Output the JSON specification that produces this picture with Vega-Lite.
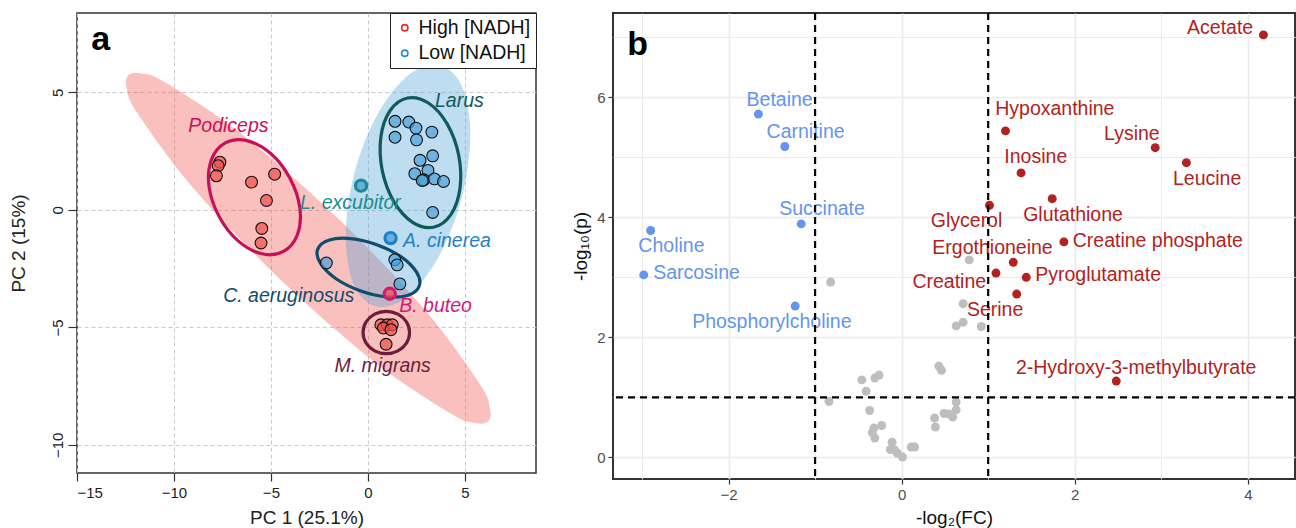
{
  "$schema": "https://vega.github.io/schema/vega-lite/v6.json",
  "background": "white",
  "padding": {"left": 8, "top": 10, "right": 5, "bottom": 0},
  "spacing": 32,
  "config": {
    "font": "Liberation Sans",
    "axis": {"labelFont": "Liberation Sans", "titleFont": "Liberation Sans", "titleFontWeight": "normal"},
    "legend": {"labelFont": "Liberation Sans"},
    "text": {"font": "Liberation Sans"}
  },
  "resolve": {
    "scale": {"color": "independent", "fill": "independent", "stroke": "independent"},
    "legend": {"color": "independent", "fill": "independent", "stroke": "independent"}
  },
  "datasets": {
    "ellFill": [
      {"grp": "High", "i": 0, "x": 6.22, "y": -8.99},
      {"grp": "High", "i": 1, "x": 6.29, "y": -8.41},
      {"grp": "High", "i": 2, "x": 5.73, "y": -7.36},
      {"grp": "High", "i": 3, "x": 2.87, "y": -4.19},
      {"grp": "High", "i": 4, "x": -1.57, "y": -0.34},
      {"grp": "High", "i": 5, "x": -6.42, "y": 3.17},
      {"grp": "High", "i": 6, "x": -10.37, "y": 5.39},
      {"grp": "High", "i": 7, "x": -11.66, "y": 5.81},
      {"grp": "High", "i": 8, "x": -12.36, "y": 5.73},
      {"grp": "High", "i": 9, "x": -12.43, "y": 5.15},
      {"grp": "High", "i": 10, "x": -11.87, "y": 4.10},
      {"grp": "High", "i": 11, "x": -9.01, "y": 0.93},
      {"grp": "High", "i": 12, "x": -4.57, "y": -2.92},
      {"grp": "High", "i": 13, "x": 0.28, "y": -6.43},
      {"grp": "High", "i": 14, "x": 4.23, "y": -8.65},
      {"grp": "High", "i": 15, "x": 5.52, "y": -9.07},
      {"grp": "Low", "i": 0, "x": 3.75, "y": 6.16},
      {"grp": "Low", "i": 1, "x": 4.90, "y": 5.17},
      {"grp": "Low", "i": 2, "x": 5.28, "y": 3.07},
      {"grp": "Low", "i": 3, "x": 4.81, "y": 0.42},
      {"grp": "Low", "i": 4, "x": 3.60, "y": -2.07},
      {"grp": "Low", "i": 5, "x": 1.99, "y": -3.72},
      {"grp": "Low", "i": 6, "x": 0.39, "y": -4.10},
      {"grp": "Low", "i": 7, "x": -0.76, "y": -3.11},
      {"grp": "Low", "i": 8, "x": -1.14, "y": -1.01},
      {"grp": "Low", "i": 9, "x": -0.67, "y": 1.64},
      {"grp": "Low", "i": 10, "x": 0.54, "y": 4.13},
      {"grp": "Low", "i": 11, "x": 2.16, "y": 5.78}
    ],
    "ellLine": [
      {"sp": "Podiceps", "i": 0, "x": -4.35, "y": -1.77},
      {"sp": "Podiceps", "i": 1, "x": -3.63, "y": -1.05},
      {"sp": "Podiceps", "i": 2, "x": -3.51, "y": 0.09},
      {"sp": "Podiceps", "i": 3, "x": -4.02, "y": 1.35},
      {"sp": "Podiceps", "i": 4, "x": -5.01, "y": 2.40},
      {"sp": "Podiceps", "i": 5, "x": -6.24, "y": 2.95},
      {"sp": "Podiceps", "i": 6, "x": -7.35, "y": 2.85},
      {"sp": "Podiceps", "i": 7, "x": -8.07, "y": 2.13},
      {"sp": "Podiceps", "i": 8, "x": -8.19, "y": 0.99},
      {"sp": "Podiceps", "i": 9, "x": -7.68, "y": -0.27},
      {"sp": "Podiceps", "i": 10, "x": -6.69, "y": -1.32},
      {"sp": "Podiceps", "i": 11, "x": -5.47, "y": -1.87},
      {"sp": "Larus", "i": 0, "x": 2.04, "y": 4.76},
      {"sp": "Larus", "i": 1, "x": 3.12, "y": 4.55},
      {"sp": "Larus", "i": 2, "x": 4.08, "y": 3.67},
      {"sp": "Larus", "i": 3, "x": 4.68, "y": 2.34},
      {"sp": "Larus", "i": 4, "x": 4.75, "y": 0.92},
      {"sp": "Larus", "i": 5, "x": 4.28, "y": -0.20},
      {"sp": "Larus", "i": 6, "x": 3.38, "y": -0.74},
      {"sp": "Larus", "i": 7, "x": 2.31, "y": -0.53},
      {"sp": "Larus", "i": 8, "x": 1.34, "y": 0.35},
      {"sp": "Larus", "i": 9, "x": 0.74, "y": 1.68},
      {"sp": "Larus", "i": 10, "x": 0.67, "y": 3.10},
      {"sp": "Larus", "i": 11, "x": 1.14, "y": 4.22},
      {"sp": "C. aeruginosus", "i": 0, "x": 2.65, "y": -3.24},
      {"sp": "C. aeruginosus", "i": 1, "x": 2.08, "y": -3.63},
      {"sp": "C. aeruginosus", "i": 2, "x": 0.96, "y": -3.70},
      {"sp": "C. aeruginosus", "i": 3, "x": -0.40, "y": -3.44},
      {"sp": "C. aeruginosus", "i": 4, "x": -1.66, "y": -2.92},
      {"sp": "C. aeruginosus", "i": 5, "x": -2.45, "y": -2.27},
      {"sp": "C. aeruginosus", "i": 6, "x": -2.59, "y": -1.68},
      {"sp": "C. aeruginosus", "i": 7, "x": -2.02, "y": -1.29},
      {"sp": "C. aeruginosus", "i": 8, "x": -0.90, "y": -1.22},
      {"sp": "C. aeruginosus", "i": 9, "x": 0.46, "y": -1.48},
      {"sp": "C. aeruginosus", "i": 10, "x": 1.72, "y": -2.00},
      {"sp": "C. aeruginosus", "i": 11, "x": 2.51, "y": -2.65},
      {"sp": "M. migrans", "i": 0, "x": 2.15, "y": -5.22},
      {"sp": "M. migrans", "i": 1, "x": 1.99, "y": -4.77},
      {"sp": "M. migrans", "i": 2, "x": 1.55, "y": -4.44},
      {"sp": "M. migrans", "i": 3, "x": 0.95, "y": -4.32},
      {"sp": "M. migrans", "i": 4, "x": 0.35, "y": -4.44},
      {"sp": "M. migrans", "i": 5, "x": -0.09, "y": -4.77},
      {"sp": "M. migrans", "i": 6, "x": -0.25, "y": -5.22},
      {"sp": "M. migrans", "i": 7, "x": -0.09, "y": -5.67},
      {"sp": "M. migrans", "i": 8, "x": 0.35, "y": -6.00},
      {"sp": "M. migrans", "i": 9, "x": 0.95, "y": -6.12},
      {"sp": "M. migrans", "i": 10, "x": 1.55, "y": -6.00},
      {"sp": "M. migrans", "i": 11, "x": 1.99, "y": -5.67}
    ],
    "pcaPts": [
      {"nadh": "High [NADH]", "grp": "High", "x": -7.63, "y": 2.03},
      {"nadh": "High [NADH]", "grp": "High", "x": -7.72, "y": 1.88},
      {"nadh": "High [NADH]", "grp": "High", "x": -7.81, "y": 1.45},
      {"nadh": "High [NADH]", "grp": "High", "x": -6.00, "y": 1.18},
      {"nadh": "High [NADH]", "grp": "High", "x": -4.81, "y": 1.52},
      {"nadh": "High [NADH]", "grp": "High", "x": -5.23, "y": 0.40},
      {"nadh": "High [NADH]", "grp": "High", "x": -5.47, "y": -0.79},
      {"nadh": "High [NADH]", "grp": "High", "x": -5.51, "y": -1.41},
      {"nadh": "High [NADH]", "grp": "High", "x": 0.67, "y": -4.89},
      {"nadh": "High [NADH]", "grp": "High", "x": 1.00, "y": -4.89},
      {"nadh": "High [NADH]", "grp": "High", "x": 1.26, "y": -4.89},
      {"nadh": "High [NADH]", "grp": "High", "x": 0.80, "y": -5.03},
      {"nadh": "High [NADH]", "grp": "High", "x": 1.19, "y": -5.10},
      {"nadh": "High [NADH]", "grp": "High", "x": 0.94, "y": -5.72},
      {"nadh": "Low [NADH]", "grp": "Low", "x": 1.40, "y": 3.77},
      {"nadh": "Low [NADH]", "grp": "Low", "x": 2.11, "y": 3.74},
      {"nadh": "Low [NADH]", "grp": "Low", "x": 2.48, "y": 3.48},
      {"nadh": "Low [NADH]", "grp": "Low", "x": 3.30, "y": 3.31},
      {"nadh": "Low [NADH]", "grp": "Low", "x": 1.40, "y": 3.09},
      {"nadh": "Low [NADH]", "grp": "Low", "x": 2.51, "y": 2.98},
      {"nadh": "Low [NADH]", "grp": "Low", "x": 3.34, "y": 2.30},
      {"nadh": "Low [NADH]", "grp": "Low", "x": 2.69, "y": 2.11},
      {"nadh": "Low [NADH]", "grp": "Low", "x": 3.10, "y": 1.68},
      {"nadh": "Low [NADH]", "grp": "Low", "x": 2.42, "y": 1.54},
      {"nadh": "Low [NADH]", "grp": "Low", "x": 2.88, "y": 1.28},
      {"nadh": "Low [NADH]", "grp": "Low", "x": 2.80, "y": 1.25},
      {"nadh": "Low [NADH]", "grp": "Low", "x": 3.43, "y": 1.32},
      {"nadh": "Low [NADH]", "grp": "Low", "x": 3.90, "y": 1.21},
      {"nadh": "Low [NADH]", "grp": "Low", "x": 3.34, "y": -0.11},
      {"nadh": "Low [NADH]", "grp": "Low", "x": -2.14, "y": -2.26},
      {"nadh": "Low [NADH]", "grp": "Low", "x": 1.39, "y": -2.12},
      {"nadh": "Low [NADH]", "grp": "Low", "x": 1.51, "y": -2.34},
      {"nadh": "Low [NADH]", "grp": "Low", "x": 1.65, "y": -3.15}
    ],
    "special": [
      {"sp": "L. excubitor", "grp": "Low", "x": -0.35, "y": 1.03},
      {"sp": "A. cinerea", "grp": "Low", "x": 1.17, "y": -1.20},
      {"sp": "B. buteo", "grp": "High", "x": 1.13, "y": -3.57}
    ],
    "spLabels": [
      {"sp": "Podiceps", "x": -7.19, "y": 3.55},
      {"sp": "Larus", "x": 4.72, "y": 4.62},
      {"sp": "L. excubitor", "x": -0.90, "y": 0.29},
      {"sp": "A. cinerea", "x": 4.08, "y": -1.34},
      {"sp": "C. aeruginosus", "x": -4.08, "y": -3.68},
      {"sp": "B. buteo", "x": 3.49, "y": -4.11},
      {"sp": "M. migrans", "x": 0.76, "y": -6.66}
    ],
    "letterA": [{"t": "a", "x": -14.27, "y": 6.80}],
    "letterB": [{"t": "b", "x": -3.17, "y": 6.71}],
    "volcano": [
      {"name": "Acetate", "cat": "up", "x": 4.18, "y": 7.04, "lx": 3.68, "ly": 7.15},
      {"name": "Hypoxanthine", "cat": "up", "x": 1.20, "y": 5.44, "lx": 1.77, "ly": 5.81},
      {"name": "Lysine", "cat": "up", "x": 2.93, "y": 5.16, "lx": 2.66, "ly": 5.38},
      {"name": "Leucine", "cat": "up", "x": 3.29, "y": 4.91, "lx": 3.53, "ly": 4.64},
      {"name": "Inosine", "cat": "up", "x": 1.38, "y": 4.74, "lx": 1.55, "ly": 5.00},
      {"name": "Glutathione", "cat": "up", "x": 1.74, "y": 4.31, "lx": 1.98, "ly": 4.04},
      {"name": "Glycerol", "cat": "up", "x": 1.015, "y": 4.20, "lx": 0.75, "ly": 3.93},
      {"name": "Creatine phosphate", "cat": "up", "x": 1.875, "y": 3.59, "lx": 2.96, "ly": 3.60},
      {"name": "Ergothioneine", "cat": "up", "x": 1.29, "y": 3.25, "lx": 1.05, "ly": 3.49},
      {"name": "Creatine", "cat": "up", "x": 1.09, "y": 3.07, "lx": 0.55, "ly": 2.92},
      {"name": "Pyroglutamate", "cat": "up", "x": 1.44, "y": 3.00, "lx": 2.27, "ly": 3.04},
      {"name": "Serine", "cat": "up", "x": 1.33, "y": 2.72, "lx": 1.08, "ly": 2.46},
      {"name": "2-Hydroxy-3-methylbutyrate", "cat": "up", "x": 2.48, "y": 1.27, "lx": 2.71, "ly": 1.49},
      {"name": "Betaine", "cat": "down", "x": -1.655, "y": 5.72, "lx": -1.41, "ly": 5.96},
      {"name": "Carnitine", "cat": "down", "x": -1.35, "y": 5.18, "lx": -1.11, "ly": 5.42},
      {"name": "Succinate", "cat": "down", "x": -1.16, "y": 3.89, "lx": -0.92, "ly": 4.13},
      {"name": "Choline", "cat": "down", "x": -2.90, "y": 3.78, "lx": -2.66, "ly": 3.52},
      {"name": "Sarcosine", "cat": "down", "x": -2.98, "y": 3.04, "lx": -2.37, "ly": 3.07},
      {"name": "Phosphorylcholine", "cat": "down", "x": -1.23, "y": 2.52, "lx": -1.50, "ly": 2.25},
      {"name": "n1", "cat": "ns", "x": -0.82, "y": 2.92},
      {"name": "n2", "cat": "ns", "x": 0.71, "y": 2.56},
      {"name": "n3", "cat": "ns", "x": 0.63, "y": 2.19},
      {"name": "n4", "cat": "ns", "x": 0.71, "y": 2.25},
      {"name": "n5", "cat": "ns", "x": 0.92, "y": 2.18},
      {"name": "n6", "cat": "ns", "x": 0.78, "y": 3.29},
      {"name": "n7", "cat": "ns", "x": 0.43, "y": 1.52},
      {"name": "n8", "cat": "ns", "x": 0.46, "y": 1.45},
      {"name": "n9", "cat": "ns", "x": -0.46, "y": 1.29},
      {"name": "n10", "cat": "ns", "x": -0.31, "y": 1.32},
      {"name": "n11", "cat": "ns", "x": -0.26, "y": 1.37},
      {"name": "n12", "cat": "ns", "x": -0.41, "y": 1.10},
      {"name": "n13", "cat": "ns", "x": -0.84, "y": 0.93},
      {"name": "n14", "cat": "ns", "x": 0.63, "y": 0.92},
      {"name": "n15", "cat": "ns", "x": 0.63, "y": 0.79},
      {"name": "n16", "cat": "ns", "x": -0.37, "y": 0.78},
      {"name": "n17", "cat": "ns", "x": 0.49, "y": 0.73},
      {"name": "n18", "cat": "ns", "x": 0.59, "y": 0.67},
      {"name": "n19", "cat": "ns", "x": 0.38, "y": 0.655},
      {"name": "n20", "cat": "ns", "x": 0.39, "y": 0.505},
      {"name": "n21", "cat": "ns", "x": -0.23, "y": 0.53},
      {"name": "n22", "cat": "ns", "x": -0.32, "y": 0.49},
      {"name": "n23", "cat": "ns", "x": -0.34, "y": 0.41},
      {"name": "n24", "cat": "ns", "x": -0.31, "y": 0.32},
      {"name": "n25", "cat": "ns", "x": -0.11, "y": 0.25},
      {"name": "n26", "cat": "ns", "x": -0.13, "y": 0.13},
      {"name": "n27", "cat": "ns", "x": -0.05, "y": 0.07},
      {"name": "n28", "cat": "ns", "x": 0.01, "y": 0.005},
      {"name": "n29", "cat": "ns", "x": 0.11, "y": 0.17},
      {"name": "n30", "cat": "ns", "x": 0.15, "y": 0.17},
      {"name": "n31", "cat": "ns", "x": 0.55, "y": 0.72},
      {"name": "n32", "cat": "ns", "x": -0.08, "y": 0.12}
    ],
    "vlines": [{"v": -1}, {"v": 1}],
    "hlines": [{"h": 1}]
  },
  "hconcat": [
    {
      "width": 459,
      "height": 460,
      "view": {"stroke": "#333333", "strokeWidth": 1.5},
      "encoding": {
        "x": {"field": "x", "type": "quantitative", "scale": {"domain": [-15, 8.67], "nice": false, "zero": false},
          "axis": {"values": [-15, -10, -5, 0, 5], "title": "PC 1 (25.1%)", "grid": true, "gridDash": [4, 3], "gridColor": "#c9c9c9", "gridWidth": 1, "domain": false, "tickSize": 8, "tickColor": "#333333", "tickWidth": 1.2, "labelFontSize": 15, "labelColor": "#222222", "labelPadding": 4, "titleFontSize": 19, "titleColor": "#222222", "titlePadding": 8}},
        "y": {"field": "y", "type": "quantitative", "scale": {"domain": [-11.2, 8.38], "nice": false, "zero": false},
          "axis": {"values": [-10, -5, 0, 5], "title": "PC 2 (15%)", "labelAngle": -90, "grid": true, "gridDash": [4, 3], "gridColor": "#c9c9c9", "gridWidth": 1, "domain": false, "tickSize": 9, "tickColor": "#333333", "tickWidth": 1.2, "labelFontSize": 15, "labelColor": "#222222", "labelPadding": 3, "titleFontSize": 19, "titleColor": "#222222", "titlePadding": 22}}
      },
      "layer": [
        {
          "data": {"name": "ellFill"},
          "mark": {"type": "line", "interpolate": "cardinal-closed", "filled": true, "fillOpacity": 0.36, "strokeOpacity": 0},
          "encoding": {
            "order": {"field": "i", "type": "quantitative"},
            "fill": {"field": "grp", "type": "nominal", "legend": null,
              "scale": {"domain": ["High", "Low"], "range": ["#f0504a", "#4aa0d8"]}}
          }
        },
        {
          "data": {"name": "ellLine"},
          "mark": {"type": "line", "interpolate": "cardinal-closed", "strokeWidth": 3.2},
          "encoding": {
            "order": {"field": "i", "type": "quantitative"},
            "color": {"field": "sp", "type": "nominal", "legend": null,
              "scale": {"domain": ["Podiceps", "Larus", "L. excubitor", "A. cinerea", "C. aeruginosus", "B. buteo", "M. migrans"], "range": ["#c8105a", "#0e5a5c", "#1a8c8c", "#1f7fc8", "#0f4c6e", "#d6177a", "#6b1d3b"]}}
          }
        },
        {
          "data": {"name": "pcaPts"},
          "mark": {"type": "circle", "size": 140, "fillOpacity": 0.7, "stroke": "#111111", "strokeWidth": 1.1},
          "encoding": {
            "fill": {"field": "grp", "type": "nominal", "legend": null,
              "scale": {"domain": ["High", "Low"], "range": ["#f0504a", "#4aa0d8"]}}
          }
        },
        {
          "data": {"name": "pcaPts"},
          "mark": {"type": "point", "filled": false, "opacity": 0},
          "encoding": {
            "stroke": {"field": "nadh", "type": "nominal",
              "scale": {"domain": ["High [NADH]", "Low [NADH]"], "range": ["#ee2a24", "#2a8ccc"]},
              "legend": {"orient": "top-right", "offset": 0, "title": null, "strokeColor": "#222222", "fillColor": "white", "padding": 5, "symbolType": "circle", "symbolSize": 40, "symbolStrokeWidth": 1.6, "symbolOpacity": 1, "labelFontSize": 19.5, "labelColor": "#111111", "labelOffset": 4, "rowPadding": 4.5, "labelExpr": "datum.label + '   '"}}
          }
        },
        {
          "data": {"name": "special"},
          "mark": {"type": "circle", "size": 125, "fillOpacity": 0.75},
          "encoding": {
            "fill": {"field": "grp", "type": "nominal", "legend": null,
              "scale": {"domain": ["High", "Low"], "range": ["#f0504a", "#4aa0d8"]}}
          }
        },
        {
          "data": {"name": "special"},
          "mark": {"type": "point", "filled": false, "size": 125, "strokeWidth": 3.2, "opacity": 1},
          "encoding": {
            "color": {"field": "sp", "type": "nominal", "legend": null,
              "scale": {"domain": ["Podiceps", "Larus", "L. excubitor", "A. cinerea", "C. aeruginosus", "B. buteo", "M. migrans"], "range": ["#c8105a", "#0e5a5c", "#1a8c8c", "#1f7fc8", "#0f4c6e", "#d6177a", "#6b1d3b"]}}
          }
        },
        {
          "data": {"name": "spLabels"},
          "mark": {"type": "text", "fontSize": 19.5, "fontStyle": "italic", "align": "center", "baseline": "middle"},
          "encoding": {
            "text": {"field": "sp"},
            "color": {"field": "sp", "type": "nominal", "legend": null,
              "scale": {"domain": ["Podiceps", "Larus", "L. excubitor", "A. cinerea", "C. aeruginosus", "B. buteo", "M. migrans"], "range": ["#c8105a", "#0e5a5c", "#1a8c8c", "#1f7fc8", "#0f4c6e", "#d6177a", "#6b1d3b"]}}
          }
        },
        {
          "data": {"name": "letterA"},
          "mark": {"type": "text", "fontSize": 34, "fontWeight": "bold", "align": "left", "baseline": "alphabetic", "color": "#000000"},
          "encoding": {"text": {"field": "t"}}
        }
      ]
    },
    {
      "width": 682,
      "height": 466,
      "view": {"stroke": "#333333", "strokeWidth": 2},
      "resolve": {"axis": {"x": "independent", "y": "independent"}},
      "layer": [
        {
          "data": {"name": "volcano"},
          "transform": [{"filter": "datum.cat == 'ns'"}],
          "mark": {"type": "circle", "size": 80, "opacity": 1},
          "encoding": {
            "x": {"field": "x", "type": "quantitative", "scale": {"domain": [-3.335, 4.545], "nice": false, "zero": false},
              "axis": {"orient": "bottom", "values": [-2, 0, 2, 4], "title": "-log₂(FC)", "grid": true, "gridColor": "#ebebeb", "gridWidth": 1.6, "domain": false, "tickSize": 5, "tickColor": "#333333", "tickWidth": 1.2, "labelFontSize": 15, "labelColor": "#4d4d4d", "labelPadding": 3, "titleFontSize": 19, "titleColor": "#111111", "titlePadding": 6}},
            "y": {"field": "y", "type": "quantitative", "scale": {"domain": [-0.362, 7.405], "nice": false, "zero": false},
              "axis": {"orient": "left", "values": [0, 2, 4, 6], "title": "-log₁₀(p)", "grid": true, "gridColor": "#ebebeb", "gridWidth": 1.6, "domain": false, "tickSize": 5, "tickColor": "#333333", "tickWidth": 1.2, "labelFontSize": 15, "labelColor": "#4d4d4d", "labelPadding": 3, "titleFontSize": 19, "titleColor": "#111111", "titlePadding": 6}},
            "color": {"field": "cat", "type": "nominal", "legend": null, "scale": {"domain": ["down", "ns", "up"], "range": ["#6495ed", "#bebebe", "#b22222"]}}
          }
        },
        {
          "data": {"name": "volcano"},
          "transform": [{"filter": "datum.cat != 'ns'"}],
          "mark": {"type": "circle", "size": 80, "opacity": 1},
          "encoding": {
            "x": {"field": "x", "type": "quantitative", "scale": {"domain": [-3.335, 4.545], "nice": false, "zero": false},
              "axis": {"orient": "top", "values": [-3, -1, 1, 3], "title": null, "grid": true, "gridColor": "#ebebeb", "gridWidth": 1, "domain": false, "ticks": false, "labels": false}},
            "y": {"field": "y", "type": "quantitative", "scale": {"domain": [-0.362, 7.405], "nice": false, "zero": false},
              "axis": {"orient": "right", "values": [1, 3, 5, 7], "title": null, "grid": true, "gridColor": "#ebebeb", "gridWidth": 1, "domain": false, "ticks": false, "labels": false}},
            "color": {"field": "cat", "type": "nominal", "legend": null, "scale": {"domain": ["down", "ns", "up"], "range": ["#6495ed", "#bebebe", "#b22222"]}}
          }
        },
        {
          "data": {"name": "volcano"},
          "transform": [{"filter": {"field": "lx", "valid": true}}],
          "mark": {"type": "text", "fontSize": 19.5, "align": "center", "baseline": "middle"},
          "encoding": {
            "x": {"field": "lx", "type": "quantitative", "scale": {"domain": [-3.335, 4.545], "nice": false, "zero": false}, "axis": null},
            "y": {"field": "ly", "type": "quantitative", "scale": {"domain": [-0.362, 7.405], "nice": false, "zero": false}, "axis": null},
            "text": {"field": "name"},
            "color": {"field": "cat", "type": "nominal", "legend": null, "scale": {"domain": ["down", "ns", "up"], "range": ["#6495ed", "#bebebe", "#b22222"]}}
          }
        },
        {
          "data": {"name": "vlines"},
          "mark": {"type": "rule", "strokeDash": [7, 5], "strokeWidth": 2.2, "color": "#000000"},
          "encoding": {
            "x": {"field": "v", "type": "quantitative", "scale": {"domain": [-3.335, 4.545], "nice": false, "zero": false}, "axis": null}
          }
        },
        {
          "data": {"name": "hlines"},
          "mark": {"type": "rule", "strokeDash": [7, 5], "strokeWidth": 2.2, "color": "#000000"},
          "encoding": {
            "y": {"field": "h", "type": "quantitative", "scale": {"domain": [-0.362, 7.405], "nice": false, "zero": false}, "axis": null}
          }
        },
        {
          "data": {"name": "letterB"},
          "mark": {"type": "text", "fontSize": 34, "fontWeight": "bold", "align": "left", "baseline": "alphabetic", "color": "#000000"},
          "encoding": {
            "x": {"field": "x", "type": "quantitative", "scale": {"domain": [-3.335, 4.545], "nice": false, "zero": false}, "axis": null},
            "y": {"field": "y", "type": "quantitative", "scale": {"domain": [-0.362, 7.405], "nice": false, "zero": false}, "axis": null},
            "text": {"field": "t"}
          }
        }
      ]
    }
  ]
}
